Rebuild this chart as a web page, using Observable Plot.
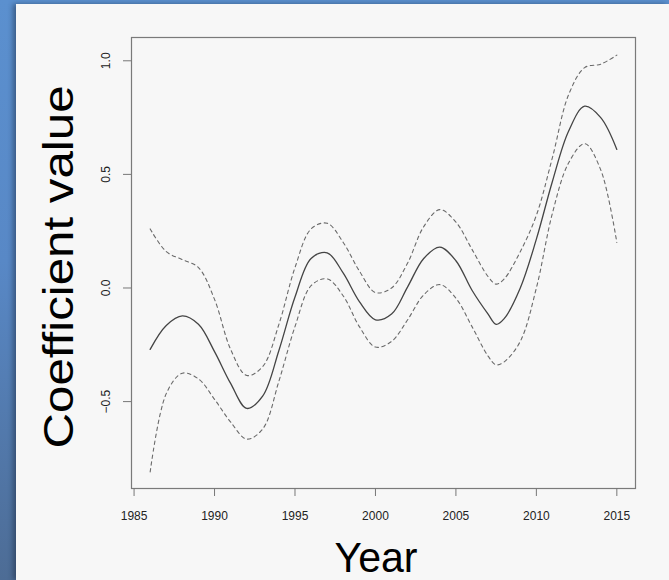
<!DOCTYPE html>
<html><head><meta charset="utf-8">
<script src="https://cdn.jsdelivr.net/npm/d3@7"></script>
<script src="https://cdn.jsdelivr.net/npm/@observablehq/plot@0.6"></script>
<style>
html,body{margin:0;padding:0;width:669px;height:580px;overflow:hidden;}
body{background:linear-gradient(to bottom,#5b90cf 0%,#5888c6 45%,#4d6c95 100%);position:relative;font-family:"Liberation Sans",Arial,sans-serif;}
#panel{position:absolute;left:16px;top:4px;width:653px;height:576px;background:#f7f7f7;box-shadow:-3px 0 5px rgba(20,30,50,0.45);}
#chart{position:absolute;left:0;top:0;}
</style></head><body><div id="panel"></div><div id="chart"></div>
<script>
const years = [1986,1987,1988,1989,1990,1991,1992,1993,1994,1995,1996,1997,1998,1999,2000,2001,2002,2003,2004,2005,2006,2007,2007.5,2008,2009,2010,2011,2012,2013,2014,2015];
const fit = [-0.27,-0.165,-0.123,-0.16,-0.28,-0.42,-0.53,-0.475,-0.275,-0.04,0.13,0.155,0.065,-0.06,-0.14,-0.115,0.005,0.13,0.18,0.12,-0.01,-0.115,-0.16,-0.135,0.0,0.215,0.47,0.69,0.80,0.75,0.61];
const upper = [0.26,0.16,0.125,0.09,-0.05,-0.27,-0.385,-0.345,-0.16,0.09,0.26,0.285,0.2,0.075,-0.02,0.0,0.11,0.27,0.345,0.29,0.17,0.05,0.017,0.04,0.16,0.32,0.575,0.85,0.97,0.985,1.025];
const lower = [-0.81,-0.465,-0.375,-0.40,-0.49,-0.59,-0.665,-0.62,-0.41,-0.17,0.01,0.04,-0.035,-0.17,-0.26,-0.235,-0.14,-0.03,0.015,-0.045,-0.17,-0.30,-0.338,-0.325,-0.235,0.0,0.33,0.55,0.635,0.52,0.20];
const xTicks = [1985,1990,1995,2000,2005,2010,2015];
const yTicks = [-0.5,0,0.5,1.0];
const xTitle = "Year";
const yTitle = "Coefficient value";

const rows = years.map((year,i)=>({year, fit:fit[i], upper:upper[i], lower:lower[i]}));
const fmtY = d3.format(".1f");

const plot = Plot.plot({
  width:669, height:580,
  marginLeft:131, marginRight:34, marginTop:37, marginBottom:92,
  style:{background:"transparent", fontFamily:"'Liberation Sans', Arial, sans-serif"},
  x:{domain:[1984.84,2016.16]},
  y:{domain:[-0.8825,1.1025]},
  marks:[
    Plot.frame({stroke:"#7a7a7a", strokeWidth:1.2}),
    Plot.line(rows,{x:"year", y:"upper", curve:"catmull-rom", stroke:"#6a6a6a", strokeWidth:1.1, strokeDasharray:"3.5,3.5"}),
    Plot.line(rows,{x:"year", y:"lower", curve:"catmull-rom", stroke:"#6a6a6a", strokeWidth:1.1, strokeDasharray:"3.5,3.5"}),
    Plot.line(rows,{x:"year", y:"fit", curve:"catmull-rom", stroke:"#444", strokeWidth:1.3}),
    Plot.axisX({ticks:xTicks, tickSize:8, tickPadding:15, tickFormat:"d", fontSize:12, stroke:"#777", fill:"#222", label:null}),
    Plot.axisY({ticks:yTicks, tickSize:8, tickFormat:()=>"", stroke:"#777", label:null}),
    Plot.text(yTicks,{y:d=>d, text:d=>fmtY(d), frameAnchor:"left", textAnchor:"middle", lineAnchor:"middle", dx:-25.5, rotate:-90, fontSize:12, fill:"#222"}),
    Plot.text([xTitle],{text:d=>d, frameAnchor:"bottom", textAnchor:"middle", dx:-7.5, dy:83, fontSize:43, fill:"#000", className:"xtitle"}),
    Plot.text([yTitle],{text:d=>d, frameAnchor:"left", textAnchor:"middle", lineAnchor:"middle", dx:-72, dy:4, rotate:-90, fontSize:43, fill:"#000", className:"ytitle"})
  ]
});
document.getElementById("chart").appendChild(plot);
d3.select(plot).selectAll("g.xtitle text").attr("textLength",83).attr("lengthAdjust","spacingAndGlyphs");
d3.select(plot).selectAll("g.ytitle text").attr("textLength",363).attr("lengthAdjust","spacingAndGlyphs");
</script></body></html>
